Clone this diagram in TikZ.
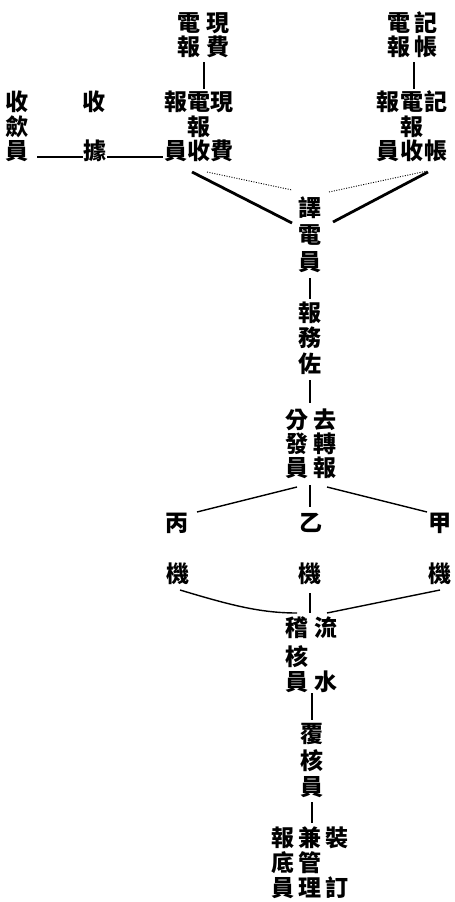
\documentclass[tikz,border=0pt]{standalone}
\usepackage{fontspec}
\newfontfamily\cjk{Noto Sans CJK TC}
\tikzset{
  g/.style={inner sep=0pt, font=\cjk\bfseries\fontsize{23}{23}\selectfont},
  thin/.style={line width=1.4pt},
  thick/.style={line width=2.8pt},
  dots/.style={line width=0.9pt, dash pattern=on 1pt off 1.5pt},
}
\begin{document}
\begin{tikzpicture}[x=1pt,y=-1pt]
\useasboundingbox (0,0) rectangle (455,902);
% top centre
\node[g] (a1) at (189,23) {電}; \node[g] (a2) at (218,23) {現};
\node[g] (a3) at (189,47) {報}; \node[g] (a4) at (218,47) {費};
% top right
\node[g] (b1) at (399,23) {電}; \node[g] (b2) at (426,23) {記};
\node[g] (b3) at (399,47) {報}; \node[g] (b4) at (426,47) {帳};
% left
\node[g] (c1) at (17,102) {收}; \node[g] (c2) at (17,127) {歛}; \node[g] (c3) at (17,151) {員};
\node[g] (d1) at (94,102) {收}; \node[g] (d2) at (95,151) {據};
% centre-left office
\node[g] (e1) at (176,102) {報}; \node[g] (e2) at (199,102) {電}; \node[g] (e3) at (222,102) {現};
\node[g] (e4) at (199,127) {報};
\node[g] (e5) at (176,151) {員}; \node[g] (e6) at (199,151) {收}; \node[g] (e7) at (222,151) {費};
% right office
\node[g] (f1) at (388,102) {報}; \node[g] (f2) at (412,102) {電}; \node[g] (f3) at (436,102) {記};
\node[g] (f4) at (412,127) {報};
\node[g] (f5) at (388,151) {員}; \node[g] (f6) at (412,151) {收}; \node[g] (f7) at (436,151) {帳};
% translator
\node[g] (t1) at (310,208) {譯}; \node[g] (t2) at (310,235) {電}; \node[g] (t3) at (310,262) {員};
\node[g] (w1) at (310,313) {報}; \node[g] (w2) at (310,338) {務}; \node[g] (w3) at (310,364) {佐};
\node[g] (h1) at (297,420) {分}; \node[g] (h2) at (325,420) {去};
\node[g] (h3) at (297,444) {發}; \node[g] (h4) at (325,444) {轉};
\node[g] (h5) at (297,468) {員}; \node[g] (h6) at (325,468) {報};
% machines
\node[g] (m1) at (177,523) {丙}; \node[g] (m2) at (311,523) {乙}; \node[g] (m3) at (440,523) {甲};
\node[g] (k1) at (178,574) {機}; \node[g] (k2) at (310,574) {機}; \node[g] (k3) at (440,574) {機};
% flow
\node[g] (s1) at (297,628) {稽}; \node[g] (s2) at (326,628) {流};
\node[g] (s3) at (297,657) {核};
\node[g] (s4) at (297,682) {員}; \node[g] (s5) at (326,682) {水};
\node[g] (v1) at (312,734) {覆}; \node[g] (v2) at (312,761) {核}; \node[g] (v3) at (312,787) {員};
\node[g] (z1) at (283,838) {報}; \node[g] (z2) at (310,838) {兼}; \node[g] (z3) at (337,838) {裝};
\node[g] (z4) at (283,863) {底}; \node[g] (z5) at (310,863) {管};
\node[g] (z6) at (283,888) {員}; \node[g] (z7) at (310,888) {理}; \node[g] (z8) at (337,888) {訂};
% coordinates
\coordinate (pa) at (204,62); \coordinate (pb) at (204,89);
\coordinate (qa) at (414,62); \coordinate (qb) at (414,89);
\coordinate (l1) at (37,157); \coordinate (l2) at (83,157);
\coordinate (l3) at (107,157); \coordinate (l4) at (163,157);
\coordinate (x1) at (192,172); \coordinate (x2) at (292,223);
\coordinate (x3) at (428,172); \coordinate (x4) at (333,222);
\coordinate (y1) at (207,172); \coordinate (y2) at (292,190);
\coordinate (y3) at (329,192); \coordinate (y4) at (427,171);
\coordinate (j1) at (310,278); \coordinate (j2) at (310,299);
\coordinate (j3) at (310,380); \coordinate (j4) at (310,403);
\coordinate (r1) at (297,487); \coordinate (r2) at (197,512);
\coordinate (r3) at (327,487); \coordinate (r4) at (427,512);
\coordinate (r5) at (310,485); \coordinate (r6) at (310,507);
\coordinate (u1) at (180,590); \coordinate (u2) at (297,613);
\coordinate (u3) at (440,590); \coordinate (u4) at (327,613);
\coordinate (u5) at (310,593); \coordinate (u6) at (310,613);
\coordinate (o1) at (312,693); \coordinate (o2) at (312,720);
\coordinate (o3) at (312,802); \coordinate (o4) at (312,823);
% connectors
\draw[thin] (pa) -- (pb);
\draw[thin] (qa) -- (qb);
\draw[thin] (l1) -- (l2);
\draw[thin] (l3) -- (l4);
\draw[thick] (x1) -- (x2);
\draw[thick] (x3) -- (x4);
\draw[dots] (y1) -- (y2);
\draw[dots] (y3) -- (y4);
\draw[thin] (j1) -- (j2);
\draw[thin] (j3) -- (j4);
\draw[thin] (r1) -- (r2);
\draw[thin] (r3) -- (r4);
\draw[thin] (r5) -- (r6);
\draw[thin] (u1) .. controls (230,605) and (260,613) .. (u2);
\draw[thin] (u3) -- (u4);
\draw[thin] (u5) -- (u6);
\draw[thin] (o1) -- (o2);
\draw[thin] (o3) -- (o4);
\end{tikzpicture}
\end{document}
